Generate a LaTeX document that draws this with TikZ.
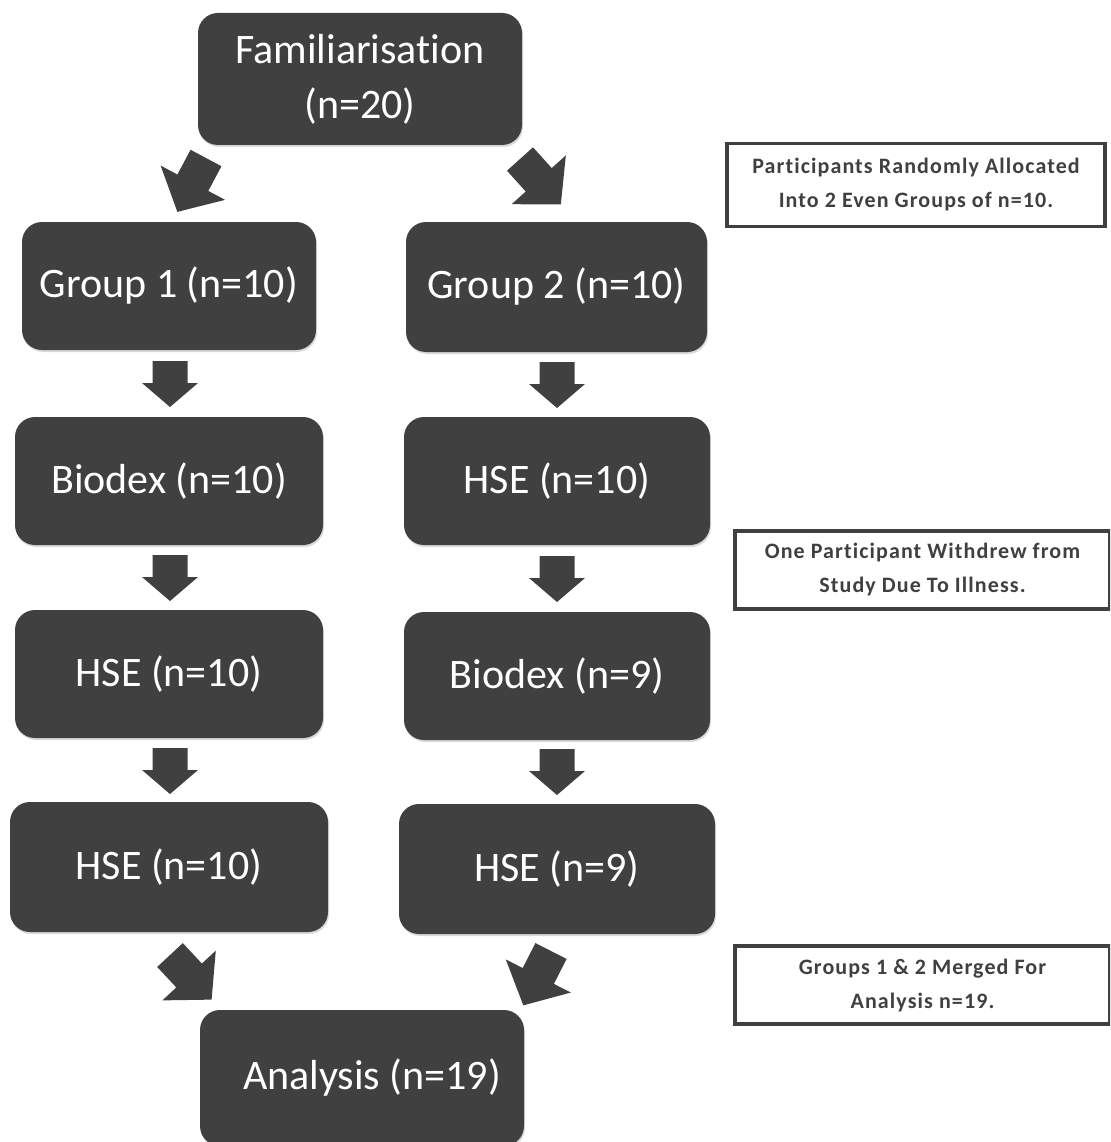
\documentclass[tikz,border=0pt]{standalone}
\usepackage{fontspec}
\setmainfont{Carlito}[Ligatures=NoCommon]
\usetikzlibrary{shadows}
\definecolor{boxgray}{RGB}{64,64,64}
\tikzset{
  downarrow/.pic={\fill[boxgray] (0,-17.5) -- (22,-17.5) -- (22,-28) -- (46,0) -- (22,28) -- (22,17.5) -- (0,17.5) -- cycle;},
  diagarrow/.pic={\fill[boxgray] (0,-17.5) -- (28,-17.5) -- (28,-36.5) -- (61,0) -- (28,36.5) -- (28,17.5) -- (0,17.5) -- cycle;}
}
\begin{document}
\begin{tikzpicture}[x=1pt,y=-1pt,
  mainbox/.style={fill=boxgray, rounded corners=20pt, text=white,
    font=\fontsize{42}{55}\selectfont, align=center, inner sep=0pt,
    drop shadow={shadow xshift=1pt, shadow yshift=-2pt, opacity=0.3}},
  notebox/.style={draw=boxgray, line width=3.5pt, fill=white, text=boxgray,
    font=\bfseries\fontsize{22}{34}\selectfont\addfontfeatures{LetterSpace=5}, align=center, inner sep=0pt}]
\useasboundingbox (0,0) rectangle (1110,1142);
\begin{scope}
\clip (0,0) rectangle (1110,1142);
% main boxes
\node[mainbox, minimum width=324pt, minimum height=132pt] (fam) at (360,79) {Familiarisation\\(n=20)};
\node[mainbox, minimum width=294pt, minimum height=128pt] (g1) at (169,286) {Group 1 (n=10)};
\node[mainbox, minimum width=301pt, minimum height=130pt] (g2) at (556.5,287) {Group 2 (n=10)};
\node[mainbox, minimum width=308pt, minimum height=128pt] (b1) at (169,481) {Biodex (n=10)};
\node[mainbox, minimum width=306pt, minimum height=128pt] (h2) at (557,481) {HSE (n=10)};
\node[mainbox, minimum width=308pt, minimum height=128pt] (h1) at (169,674) {HSE (n=10)};
\node[mainbox, minimum width=306pt, minimum height=128pt] (b2) at (557,676) {Biodex (n=9)};
\node[mainbox, minimum width=318pt, minimum height=130pt] (h1b) at (169,867) {HSE (n=10)};
\node[mainbox, minimum width=316pt, minimum height=130pt] (h2b) at (557,869) {HSE (n=9)};
\node[mainbox, minimum width=324pt, minimum height=136pt] (an) at (362,1078) {\hspace*{20pt}Analysis (n=19)};
% note boxes
\node[notebox, minimum width=378pt, minimum height=83pt] (n1) at (916,185) {Participants Randomly Allocated\\Into 2 Even Groups of n=10.};
\node[notebox, minimum width=375pt, minimum height=78pt] (n2) at (922.5,570) {One Participant Withdrew from\\Study Due To Illness.};
\node[notebox, minimum width=375pt, minimum height=78pt] (n3) at (922.5,985) {Groups 1 \& 2 Merged For\\Analysis n=19.};
\end{scope}
% diagonal arrows
\pic[rotate=-118] at (206,158) {diagarrow};
\pic[rotate=-48] at (520,159) {diagarrow};
\pic[rotate=-47] at (170,955) {diagarrow};
\pic[rotate=-117] at (551,951) {diagarrow};
% down arrows
\pic[rotate=-90] at (170,361) {downarrow};
\pic[rotate=-90] at (170,555) {downarrow};
\pic[rotate=-90] at (170,748) {downarrow};
\pic[rotate=-90] at (557,362) {downarrow};
\pic[rotate=-90] at (557,556) {downarrow};
\pic[rotate=-90] at (557,749) {downarrow};
\end{tikzpicture}
\end{document}
